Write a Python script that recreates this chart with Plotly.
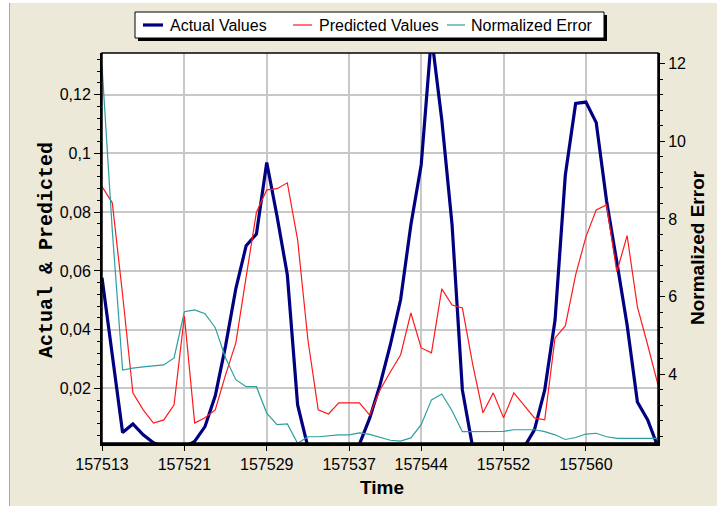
import plotly.graph_objects as go

# ---- data -------------------------------------------------------------
time = [
    157513, 157514, 157515, 157516, 157517, 157518, 157519, 157520, 157521, 157522,
    157523, 157524, 157525, 157526, 157527, 157528, 157529, 157530, 157531, 157532,
    157533, 157534, 157535, 157536, 157537, 157538, 157539, 157540, 157541, 157542,
    157543, 157544, 157545, 157546, 157547, 157548, 157549, 157550, 157551, 157552,
    157553, 157554, 157555, 157556, 157557, 157558, 157559, 157560, 157561, 157562,
    157563, 157564, 157565, 157566, 157567,
]

actual_values = [
    0.0577, 0.0310, 0.0050, 0.0079, 0.0042, 0.0015, 0.0000, 0.0000, 0.0000, 0.0020,
    0.0070, 0.0175, 0.0345, 0.0540, 0.0686, 0.0726, 0.0969, 0.0786, 0.0587, 0.0144,
    0.0000, 0.0000, 0.0000, 0.0000, 0.0000, 0.0010, 0.0099, 0.0212, 0.0348, 0.0502,
    0.0757, 0.0961, 0.1400, 0.1115, 0.0757, 0.0195, 0.0000, 0.0000, 0.0000, 0.0000,
    0.0000, 0.0000, 0.0059, 0.0195, 0.0433, 0.0927, 0.1170, 0.1175, 0.1105, 0.0840,
    0.0631, 0.0416, 0.0154, 0.0093, 0.0000,
]

predicted_values = [
    0.0887, 0.0832, 0.0519, 0.0185, 0.0127, 0.0082, 0.0093, 0.0144, 0.0447, 0.0082,
    0.0100, 0.0127, 0.0246, 0.0355, 0.0580, 0.0800, 0.0876, 0.0880, 0.0900, 0.0706,
    0.0365, 0.0127, 0.0113, 0.0151, 0.0151, 0.0151, 0.0109, 0.0195, 0.0256, 0.0314,
    0.0457, 0.0338, 0.0321, 0.0539, 0.0484, 0.0474, 0.0283, 0.0117, 0.0185, 0.0100,
    0.0185, 0.0144, 0.0100, 0.0093, 0.0372, 0.0413, 0.0587, 0.0716, 0.0808, 0.0825,
    0.0597, 0.0720, 0.0478, 0.0348, 0.0212,
]

normalized_error = [
    11.95, 7.70, 4.11, 4.16, 4.19, 4.22, 4.24, 4.42, 5.61, 5.66,
    5.56, 5.20, 4.42, 3.86, 3.68, 3.68, 3.00, 2.70, 2.72, 2.22,
    2.39, 2.39, 2.42, 2.44, 2.44, 2.49, 2.45, 2.37, 2.30, 2.28,
    2.36, 2.70, 3.34, 3.49, 3.06, 2.52, 2.52, 2.52, 2.52, 2.53,
    2.57, 2.57, 2.57, 2.52, 2.44, 2.32, 2.37, 2.46, 2.48, 2.39,
    2.35, 2.35, 2.35, 2.35, 2.35,
]

series_names = ["Actual Values", "Predicted Values", "Normalized Error"]

x_tick_vals = [157513, 157521, 157529, 157537, 157544, 157552, 157560]
x_tick_text = ["157513", "157521", "157529", "157537", "157544", "157552", "157560"]
left_tick_vals = [0.02, 0.04, 0.06, 0.08, 0.10, 0.12]
left_tick_text = ["0,02", "0,04", "0,06", "0,08", "0,1", "0,12"]
right_tick_vals = [4, 6, 8, 10, 12]
right_tick_text = ["4", "6", "8", "10", "12"]

# ---- page geometry (pixels) ------------------------------------------
W, H = 717, 506
ML, MR, MT, MB = 102, 59, 53, 63
PW, PH = W - ML - MR, H - MT - MB


def fx(px):
    """page pixel x -> paper fraction"""
    return (px - ML) / PW


def fy(py):
    """page pixel y (from top) -> paper fraction"""
    return (H - MB - py) / PH


PANEL = "#ECE9D8"
GRID = "#C8C8C8"
NAVY = "#000080"
RED = "#FF1A1A"
TEAL = "#2E9E9E"
SANS = "Liberation Sans, Arial, sans-serif"

styles = [
    dict(color=NAVY, width=3.2),
    dict(color=RED, width=1.2),
    dict(color=TEAL, width=1.2),
]

fig = go.Figure()
fig.add_trace(go.Scatter(x=time, y=actual_values, name=series_names[0],
                         mode="lines", line=styles[0]))
fig.add_trace(go.Scatter(x=time, y=predicted_values, name=series_names[1],
                         mode="lines", line=styles[1]))
fig.add_trace(go.Scatter(x=time, y=normalized_error, name=series_names[2],
                         mode="lines", line=styles[2], yaxis="y2"))

shapes = [
    # white margin strips around the grey panel
    dict(type="rect", xref="paper", yref="paper", x0=fx(0), x1=fx(9), y0=fy(H), y1=fy(0),
         fillcolor="white", line=dict(width=0), layer="below"),
    dict(type="rect", xref="paper", yref="paper", x0=fx(0), x1=fx(W), y0=fy(3), y1=fy(0),
         fillcolor="white", line=dict(width=0), layer="below"),
    dict(type="line", xref="paper", yref="paper", x0=fx(9.5), x1=fx(9.5), y0=fy(H), y1=fy(3),
         line=dict(color="#A8A8A8", width=1), layer="below"),
    # plot frame
    dict(type="rect", xref="paper", yref="paper", x0=0, x1=1, y0=0, y1=1,
         line=dict(color="black", width=1.5), layer="above"),
    # legend box with drop shadow
    dict(type="rect", xref="paper", yref="paper", x0=fx(138), x1=fx(607), y0=fy(41), y1=fy(15),
         fillcolor="black", line=dict(width=0), layer="above"),
    dict(type="rect", xref="paper", yref="paper", x0=fx(135), x1=fx(604), y0=fy(38), y1=fy(12),
         fillcolor="white", line=dict(color="black", width=1), layer="above"),
]

annotations = [
    dict(text="<b>Actual & Predicted</b>", xref="paper", yref="paper",
         x=fx(46), y=fy(250), xanchor="center", yanchor="middle",
         textangle=-90, showarrow=False,
         font=dict(family="Liberation Mono, Courier New, monospace", size=20, color="black")),
    dict(text="<b>Normalized Error</b>", xref="paper", yref="paper",
         x=fx(697), y=fy(248), xanchor="center", yanchor="middle",
         textangle=-90, showarrow=False,
         font=dict(family=SANS, size=19, color="black")),
    dict(text="<b>Time</b>", xref="paper", yref="paper",
         x=fx(382), y=fy(487), xanchor="center", yanchor="middle", showarrow=False,
         font=dict(family=SANS, size=19, color="black")),
]

# legend entries: short line sample followed by the series name
legend_line_x = [(143, 163), (293, 312), (447, 465)]
legend_text_x = [168, 317, 469]
LEG_Y = 25
for name, style, (lx0, lx1), tx in zip(series_names, styles, legend_line_x, legend_text_x):
    shapes.append(dict(type="line", xref="paper", yref="paper",
                       x0=fx(lx0), x1=fx(lx1), y0=fy(LEG_Y), y1=fy(LEG_Y),
                       line=dict(color=style["color"], width=style["width"]), layer="above"))
    annotations.append(dict(text=name, xref="paper", yref="paper",
                            x=fx(tx), y=fy(LEG_Y), xanchor="left", yanchor="middle",
                            showarrow=False,
                            font=dict(family=SANS, size=16, color="black")))

fig.update_layout(
    width=W, height=H,
    margin=dict(l=ML, r=MR, t=MT, b=MB, pad=0),
    paper_bgcolor=PANEL, plot_bgcolor="white",
    font=dict(family=SANS, size=16, color="black"),
    showlegend=False,
    xaxis=dict(
        range=[157513, 157567], tickmode="array", tickvals=x_tick_vals, ticktext=x_tick_text,
        showgrid=True, gridcolor=GRID, gridwidth=1.5, zeroline=False,
        ticks="outside", ticklen=5, tickcolor="black", tickwidth=1,
        showline=True, linecolor="black", linewidth=3,
    ),
    yaxis=dict(
        range=[0.00143, 0.1342], tickmode="array", tickvals=left_tick_vals, ticktext=left_tick_text,
        showgrid=True, gridcolor=GRID, gridwidth=1.5, zeroline=False,
        ticks="outside", ticklen=6, tickcolor="black", tickwidth=1,
        minor=dict(dtick=0.004, tick0=0, ticks="outside", ticklen=3, tickcolor="black", showgrid=False),
        showline=True, linecolor="black", linewidth=2,
    ),
    yaxis2=dict(
        overlaying="y", side="right", range=[2.229, 12.276],
        tickmode="array", tickvals=right_tick_vals, ticktext=right_tick_text,
        showgrid=False, zeroline=False,
        ticks="outside", ticklen=5, tickcolor="black", tickwidth=1,
        minor=dict(dtick=0.4, tick0=0, ticks="outside", ticklen=3, tickcolor="black", showgrid=False),
        showline=True, linecolor="black", linewidth=2,
    ),
    shapes=shapes,
    annotations=annotations,
)

fig.write_html("out.html")
